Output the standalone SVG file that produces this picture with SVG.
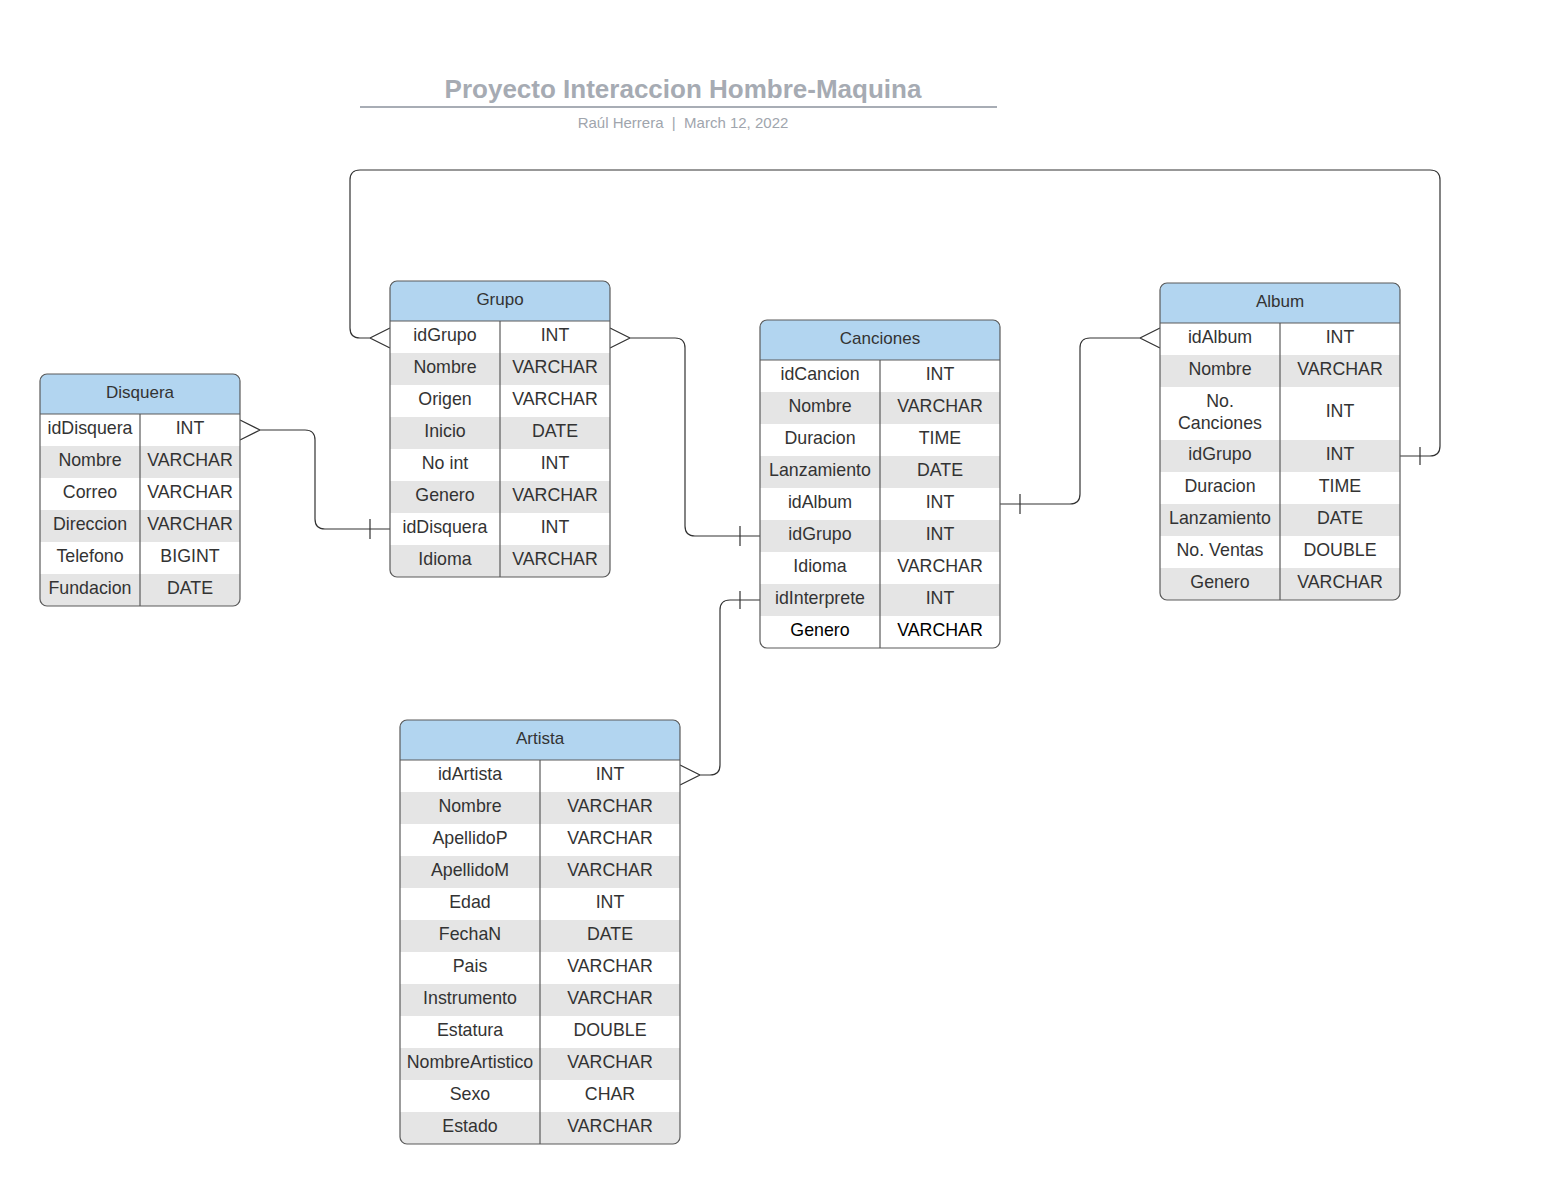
<svg xmlns="http://www.w3.org/2000/svg" width="1560" height="1184" viewBox="0 0 1560 1184">
<style>
.box{fill:none;stroke:#5a5a5a;stroke-width:1.2}
.ln{stroke:#5a5a5a;stroke-width:1.2}
.hdr{fill:#b2d5f0}
.g{fill:#e5e5e5}
.t{font-family:"Liberation Sans",Arial,sans-serif;font-size:17.8px;fill:#333;text-anchor:middle}
.h{font-size:17px}
.k{fill:#000}
.c{fill:none;stroke:#333;stroke-width:1.2}
</style>
<defs>
<clipPath id="cg"><rect x="390" y="281" width="220" height="296" rx="7"/></clipPath>
<clipPath id="cd"><rect x="40" y="374" width="200" height="232" rx="7"/></clipPath>
<clipPath id="cc"><rect x="760" y="320" width="240" height="328" rx="7"/></clipPath>
<clipPath id="ca"><rect x="1160" y="283" width="240" height="317" rx="7"/></clipPath>
<clipPath id="cr"><rect x="400" y="720" width="280" height="424" rx="7"/></clipPath>
</defs>
<rect width="1560" height="1184" fill="#fff"/>
<g id="title">
<text x="683" y="98" font-family="'Liberation Sans',Arial,sans-serif" font-size="26" font-weight="bold" fill="#a6abb3" text-anchor="middle">Proyecto Interaccion Hombre-Maquina</text>
<line x1="360" y1="107" x2="997" y2="107" stroke="#a8adb5" stroke-width="2"/>
<text x="683" y="128" font-family="'Liberation Sans',Arial,sans-serif" font-size="15" fill="#a0a5ad" text-anchor="middle" xml:space="preserve">Raúl Herrera  |  March 12, 2022</text>
</g>
<g id="connectors">
<path class="c" d="M240,420 L260,430 L240,440 M260,430 H305 Q315,430 315,440 V519 Q315,529 325,529 H390 M370,519 V539"/>
<path class="c" d="M610,328 L630,338 L610,348 M630,338 H675 Q685,338 685,348 V526 Q685,536 695,536 H760 M740,526 V546"/>
<path class="c" d="M390,328 L370,338 L390,348 M370,338 H360 Q350,338 350,328 V180 Q350,170 360,170 H1430 Q1440,170 1440,180 V446 Q1440,456 1430,456 H1400 M1420,447 V465"/>
<path class="c" d="M1000,504 H1070 Q1080,504 1080,494 V348 Q1080,338 1090,338 H1140 M1160,328 L1140,338 L1160,348 M1020,494 V514"/>
<path class="c" d="M760,600 H730 Q720,600 720,610 V765 Q720,775 710,775 H700 M680,765 L700,775 L680,785 M740,591 V609"/>
</g>
<g id="grupo">
<g clip-path="url(#cg)">
<rect x="390" y="281" width="220" height="296" fill="#fff"/>
<rect class="hdr" x="390" y="281" width="220" height="40"/>
<rect class="g" x="390" y="353" width="220" height="32"/>
<rect class="g" x="390" y="417" width="220" height="32"/>
<rect class="g" x="390" y="481" width="220" height="32"/>
<rect class="g" x="390" y="545" width="220" height="32"/>
</g>
<line class="ln" x1="390" y1="321" x2="610" y2="321"/>
<line class="ln" x1="500" y1="321" x2="500" y2="577"/>
<rect class="box" x="390" y="281" width="220" height="296" rx="7"/>
<text class="t h" x="500" y="305">Grupo</text>
<text class="t" x="445" y="341">idGrupo</text><text class="t" x="555" y="341">INT</text>
<text class="t" x="445" y="373">Nombre</text><text class="t" x="555" y="373">VARCHAR</text>
<text class="t" x="445" y="405">Origen</text><text class="t" x="555" y="405">VARCHAR</text>
<text class="t" x="445" y="437">Inicio</text><text class="t" x="555" y="437">DATE</text>
<text class="t" x="445" y="469">No int</text><text class="t" x="555" y="469">INT</text>
<text class="t" x="445" y="501">Genero</text><text class="t" x="555" y="501">VARCHAR</text>
<text class="t" x="445" y="533">idDisquera</text><text class="t" x="555" y="533">INT</text>
<text class="t" x="445" y="565">Idioma</text><text class="t" x="555" y="565">VARCHAR</text>
</g>
<g id="disquera">
<g clip-path="url(#cd)">
<rect x="40" y="374" width="200" height="232" fill="#fff"/>
<rect class="hdr" x="40" y="374" width="200" height="40"/>
<rect class="g" x="40" y="446" width="200" height="32"/>
<rect class="g" x="40" y="510" width="200" height="32"/>
<rect class="g" x="40" y="574" width="200" height="32"/>
</g>
<line class="ln" x1="40" y1="414" x2="240" y2="414"/>
<line class="ln" x1="140" y1="414" x2="140" y2="606"/>
<rect class="box" x="40" y="374" width="200" height="232" rx="7"/>
<text class="t h" x="140" y="398">Disquera</text>
<text class="t" x="90" y="434">idDisquera</text><text class="t" x="190" y="434">INT</text>
<text class="t" x="90" y="466">Nombre</text><text class="t" x="190" y="466">VARCHAR</text>
<text class="t" x="90" y="498">Correo</text><text class="t" x="190" y="498">VARCHAR</text>
<text class="t" x="90" y="530">Direccion</text><text class="t" x="190" y="530">VARCHAR</text>
<text class="t" x="90" y="562">Telefono</text><text class="t" x="190" y="562">BIGINT</text>
<text class="t" x="90" y="594">Fundacion</text><text class="t" x="190" y="594">DATE</text>
</g>
<g id="canciones">
<g clip-path="url(#cc)">
<rect x="760" y="320" width="240" height="328" fill="#fff"/>
<rect class="hdr" x="760" y="320" width="240" height="40"/>
<rect class="g" x="760" y="392" width="240" height="32"/>
<rect class="g" x="760" y="456" width="240" height="32"/>
<rect class="g" x="760" y="520" width="240" height="32"/>
<rect class="g" x="760" y="584" width="240" height="32"/>
</g>
<line class="ln" x1="760" y1="360" x2="1000" y2="360"/>
<line class="ln" x1="880" y1="360" x2="880" y2="648"/>
<rect class="box" x="760" y="320" width="240" height="328" rx="7"/>
<text class="t h" x="880" y="344">Canciones</text>
<text class="t" x="820" y="380">idCancion</text><text class="t" x="940" y="380">INT</text>
<text class="t" x="820" y="412">Nombre</text><text class="t" x="940" y="412">VARCHAR</text>
<text class="t" x="820" y="444">Duracion</text><text class="t" x="940" y="444">TIME</text>
<text class="t" x="820" y="476">Lanzamiento</text><text class="t" x="940" y="476">DATE</text>
<text class="t" x="820" y="508">idAlbum</text><text class="t" x="940" y="508">INT</text>
<text class="t" x="820" y="540">idGrupo</text><text class="t" x="940" y="540">INT</text>
<text class="t" x="820" y="572">Idioma</text><text class="t" x="940" y="572">VARCHAR</text>
<text class="t" x="820" y="604">idInterprete</text><text class="t" x="940" y="604">INT</text>
<text class="t k" x="820" y="636">Genero</text><text class="t k" x="940" y="636">VARCHAR</text>
</g>
<g id="album">
<g clip-path="url(#ca)">
<rect x="1160" y="283" width="240" height="317" fill="#fff"/>
<rect class="hdr" x="1160" y="283" width="240" height="40"/>
<rect class="g" x="1160" y="355" width="240" height="32"/>
<rect class="g" x="1160" y="440" width="240" height="32"/>
<rect class="g" x="1160" y="504" width="240" height="32"/>
<rect class="g" x="1160" y="568" width="240" height="32"/>
</g>
<line class="ln" x1="1160" y1="323" x2="1400" y2="323"/>
<line class="ln" x1="1280" y1="323" x2="1280" y2="600"/>
<rect class="box" x="1160" y="283" width="240" height="317" rx="7"/>
<text class="t h" x="1280" y="307">Album</text>
<text class="t" x="1220" y="343">idAlbum</text><text class="t" x="1340" y="343">INT</text>
<text class="t" x="1220" y="375">Nombre</text><text class="t" x="1340" y="375">VARCHAR</text>
<text class="t" x="1220" y="407">No.</text><text class="t" x="1220" y="429">Canciones</text><text class="t" x="1340" y="417">INT</text>
<text class="t" x="1220" y="460">idGrupo</text><text class="t" x="1340" y="460">INT</text>
<text class="t" x="1220" y="492">Duracion</text><text class="t" x="1340" y="492">TIME</text>
<text class="t" x="1220" y="524">Lanzamiento</text><text class="t" x="1340" y="524">DATE</text>
<text class="t" x="1220" y="556">No. Ventas</text><text class="t" x="1340" y="556">DOUBLE</text>
<text class="t" x="1220" y="588">Genero</text><text class="t" x="1340" y="588">VARCHAR</text>
</g>
<g id="artista">
<g clip-path="url(#cr)">
<rect x="400" y="720" width="280" height="424" fill="#fff"/>
<rect class="hdr" x="400" y="720" width="280" height="40"/>
<rect class="g" x="400" y="792" width="280" height="32"/>
<rect class="g" x="400" y="856" width="280" height="32"/>
<rect class="g" x="400" y="920" width="280" height="32"/>
<rect class="g" x="400" y="984" width="280" height="32"/>
<rect class="g" x="400" y="1048" width="280" height="32"/>
<rect class="g" x="400" y="1112" width="280" height="32"/>
</g>
<line class="ln" x1="400" y1="760" x2="680" y2="760"/>
<line class="ln" x1="540" y1="760" x2="540" y2="1144"/>
<rect class="box" x="400" y="720" width="280" height="424" rx="7"/>
<text class="t h" x="540" y="744">Artista</text>
<text class="t" x="470" y="780">idArtista</text><text class="t" x="610" y="780">INT</text>
<text class="t" x="470" y="812">Nombre</text><text class="t" x="610" y="812">VARCHAR</text>
<text class="t" x="470" y="844">ApellidoP</text><text class="t" x="610" y="844">VARCHAR</text>
<text class="t" x="470" y="876">ApellidoM</text><text class="t" x="610" y="876">VARCHAR</text>
<text class="t" x="470" y="908">Edad</text><text class="t" x="610" y="908">INT</text>
<text class="t" x="470" y="940">FechaN</text><text class="t" x="610" y="940">DATE</text>
<text class="t" x="470" y="972">Pais</text><text class="t" x="610" y="972">VARCHAR</text>
<text class="t" x="470" y="1004">Instrumento</text><text class="t" x="610" y="1004">VARCHAR</text>
<text class="t" x="470" y="1036">Estatura</text><text class="t" x="610" y="1036">DOUBLE</text>
<text class="t" x="470" y="1068">NombreArtistico</text><text class="t" x="610" y="1068">VARCHAR</text>
<text class="t" x="470" y="1100">Sexo</text><text class="t" x="610" y="1100">CHAR</text>
<text class="t" x="470" y="1132">Estado</text><text class="t" x="610" y="1132">VARCHAR</text>
</g>
</svg>
